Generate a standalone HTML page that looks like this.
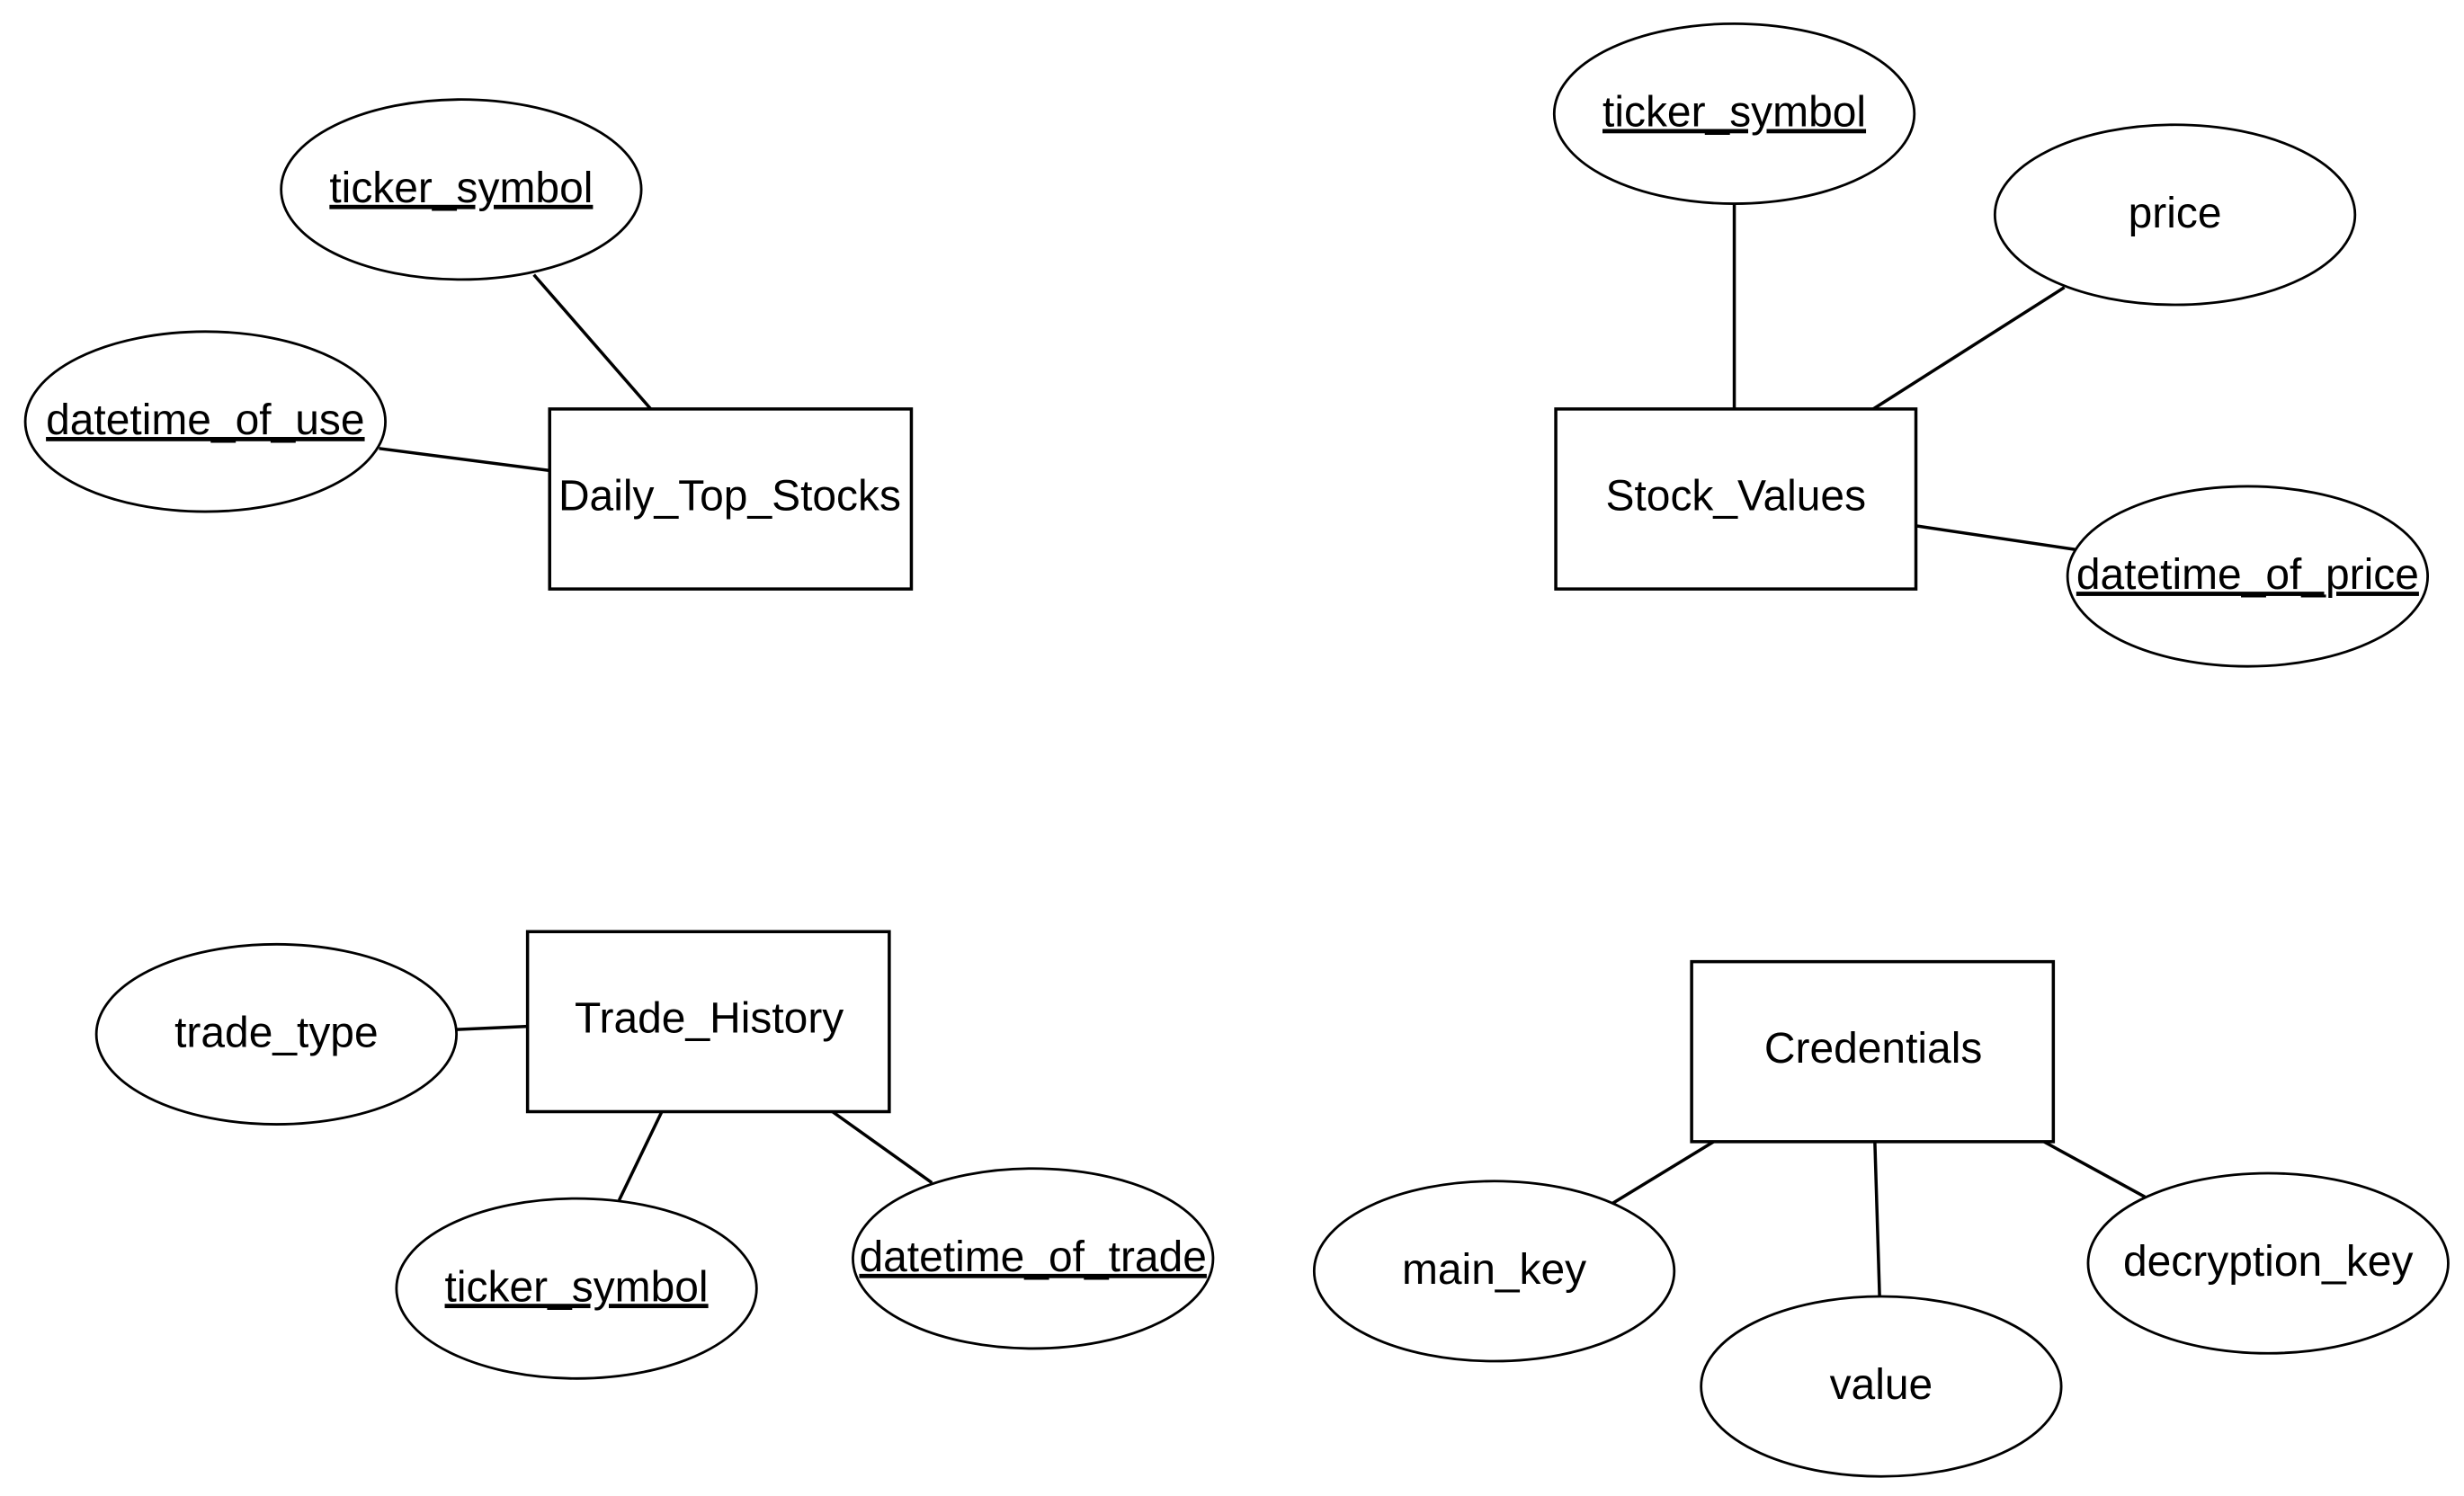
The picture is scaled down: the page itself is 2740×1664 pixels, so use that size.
<!DOCTYPE html>
<html><head><style>html,body{margin:0;padding:0;background:#fff;}svg{display:block;}</style></head>
<body>
<svg width="2740" height="1664" viewBox="0 0 1560 947.4" preserveAspectRatio="none" xmlns="http://www.w3.org/2000/svg">
<g fill="#fff" stroke="#000" stroke-width="1.6">
<rect x="348" y="259" width="229" height="114" stroke-width="2"/>
<rect x="985" y="259" width="228" height="114" stroke-width="2"/>
<rect x="334" y="590" width="229" height="114" stroke-width="2"/>
<rect x="1071" y="609" width="229" height="114" stroke-width="2"/>
<ellipse cx="292" cy="120" rx="114" ry="57"/>
<ellipse cx="130" cy="267" rx="114" ry="57"/>
<ellipse cx="1098" cy="72" rx="114" ry="57"/>
<ellipse cx="1377" cy="136" rx="114" ry="57"/>
<ellipse cx="1423" cy="365" rx="114" ry="57"/>
<ellipse cx="175" cy="655" rx="114" ry="57"/>
<ellipse cx="365" cy="816" rx="114" ry="57"/>
<ellipse cx="654" cy="797" rx="114" ry="57"/>
<ellipse cx="946" cy="805" rx="114" ry="57"/>
<ellipse cx="1191" cy="878" rx="114" ry="57"/>
<ellipse cx="1436" cy="800" rx="114" ry="57"/>
</g>
<g stroke="#000" stroke-width="2">
<line x1="338" y1="174" x2="412" y2="259"/>
<line x1="240" y1="284" x2="348" y2="298"/>
<line x1="1098" y1="129" x2="1098" y2="259"/>
<line x1="1307" y1="182" x2="1186" y2="259"/>
<line x1="1213" y1="333" x2="1314" y2="348"/>
<line x1="289" y1="652" x2="334" y2="650"/>
<line x1="419" y1="704" x2="392" y2="760"/>
<line x1="527" y1="704" x2="590" y2="749"/>
<line x1="1085" y1="723" x2="1021" y2="762"/>
<line x1="1187" y1="723" x2="1190" y2="821"/>
<line x1="1294" y1="723" x2="1358" y2="758"/>
</g>
<g font-family="Liberation Sans, Arial, sans-serif" font-size="27.3" text-anchor="middle" fill="#000">
<text x="462" y="323">Daily_Top_Stocks</text>
<text x="1099" y="323">Stock_Values</text>
<text x="449" y="654">Trade_History</text>
<text x="1186" y="673">Credentials</text>
<text x="292" y="128" text-decoration="underline">ticker_symbol</text>
<text x="130" y="275" text-decoration="underline">datetime_of_use</text>
<text x="1098" y="80" text-decoration="underline">ticker_symbol</text>
<text x="1377" y="144">price</text>
<text x="1423" y="373" text-decoration="underline">datetime_of_price</text>
<text x="175" y="663">trade_type</text>
<text x="365" y="824" text-decoration="underline">ticker_symbol</text>
<text x="654" y="805" text-decoration="underline">datetime_of_trade</text>
<text x="946" y="813">main_key</text>
<text x="1191" y="886">value</text>
<text x="1436" y="808">decryption_key</text>
</g>
</svg>
</body></html>
